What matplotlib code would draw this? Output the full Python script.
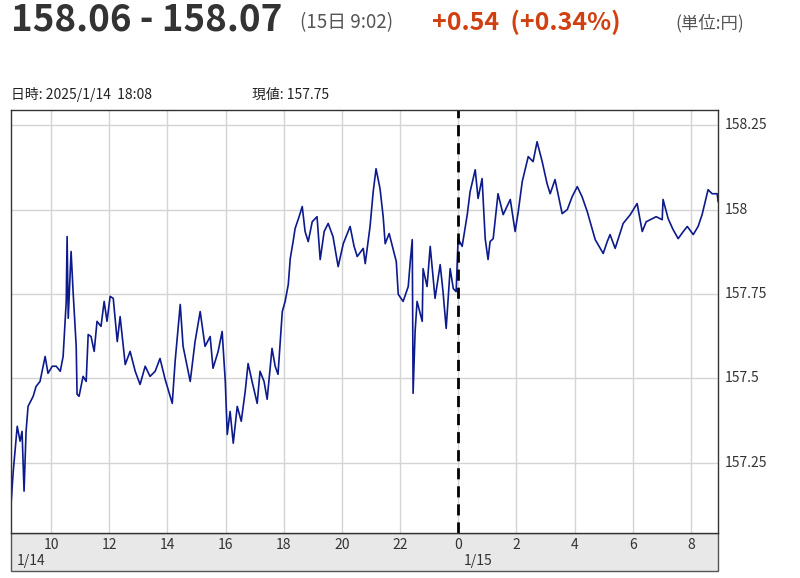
import matplotlib
matplotlib.use("Agg")
import matplotlib.pyplot as plt
from matplotlib.patches import Rectangle

plt.rcParams["font.family"] = ["Noto Sans CJK JP", "DejaVu Sans"]

# hours since 1/14 00:00
hours = [8.628, 8.697, 8.834, 8.932, 9.000, 9.069, 9.138, 9.206, 9.383, 9.481, 9.618, 9.794, 9.892,
         10.039, 10.176, 10.314, 10.412, 10.519, 10.549, 10.588, 10.686, 10.755, 10.862, 10.892, 10.960,
         11.098, 11.205, 11.274, 11.372, 11.480, 11.578, 11.715, 11.823, 11.921, 12.029, 12.136, 12.274,
         12.372, 12.548, 12.715, 12.891, 13.058, 13.234, 13.401, 13.577, 13.744, 13.920, 14.165, 14.263,
         14.439, 14.537, 14.675, 14.782, 14.949, 15.125, 15.292, 15.468, 15.566, 15.743, 15.880, 15.988,
         16.056, 16.154, 16.262, 16.399, 16.537, 16.674, 16.772, 16.909, 17.085, 17.183, 17.321, 17.428,
         17.595, 17.703, 17.801, 17.948, 18.046, 18.154, 18.222, 18.320, 18.389, 18.526, 18.634, 18.732,
         18.840, 18.977, 19.143, 19.251, 19.388, 19.526, 19.692, 19.869, 20.045, 20.280, 20.417, 20.525,
         20.731, 20.800, 20.966, 21.074, 21.172, 21.309, 21.417, 21.486, 21.623, 21.760, 21.868, 21.936,
         22.103, 22.279, 22.348, 22.417, 22.446, 22.515, 22.583, 22.760, 22.789, 22.926, 23.034, 23.201,
         23.377, 23.475, 23.583, 23.720, 23.828, 23.926, 23.994, 24.132, 24.308, 24.406, 24.582, 24.680,
         24.818, 24.925, 25.023, 25.092, 25.200, 25.366, 25.543, 25.788, 25.954, 26.062, 26.199, 26.405,
         26.572, 26.709, 26.885, 27.052, 27.160, 27.326, 27.571, 27.748, 27.914, 28.091, 28.257, 28.434,
         28.708, 28.983, 29.120, 29.218, 29.394, 29.669, 29.914, 30.149, 30.325, 30.462, 30.600, 30.805,
         31.011, 31.041, 31.217, 31.384, 31.560, 31.736, 31.874, 32.079, 32.246, 32.383, 32.589, 32.726,
         32.903, 32.932]
prices = [157.136, 157.225, 157.358, 157.314, 157.343, 157.166, 157.343, 157.417, 157.447,
          157.476, 157.491, 157.565, 157.515, 157.536, 157.536, 157.521, 157.565, 157.728,
          157.920, 157.678, 157.876, 157.757, 157.595, 157.453, 157.447, 157.506, 157.491,
          157.630, 157.624, 157.580, 157.669, 157.654, 157.728, 157.669, 157.743, 157.737,
          157.609, 157.683, 157.541, 157.580, 157.521, 157.482, 157.536, 157.506, 157.521,
          157.559, 157.497, 157.426, 157.550, 157.719, 157.595, 157.536, 157.491, 157.609,
          157.698, 157.595, 157.624, 157.530, 157.580, 157.639, 157.491, 157.334, 157.402,
          157.308, 157.417, 157.373, 157.462, 157.544, 157.491, 157.426, 157.521, 157.491,
          157.438, 157.589, 157.536, 157.512, 157.698, 157.728, 157.778, 157.855, 157.905,
          157.944, 157.979, 158.009, 157.935, 157.905, 157.964, 157.979, 157.852, 157.935,
          157.959, 157.920, 157.831, 157.899, 157.950, 157.891, 157.861, 157.885, 157.840,
          157.950, 158.053, 158.121, 158.062, 157.979, 157.899, 157.929, 157.882, 157.846,
          157.749, 157.728, 157.772, 157.846, 157.911, 157.456, 157.639, 157.728, 157.669,
          157.825, 157.772, 157.891, 157.737, 157.837, 157.757, 157.648, 157.825, 157.766,
          157.757, 157.914, 157.891, 157.985, 158.053, 158.118, 158.033, 158.092, 157.914,
          157.852, 157.905, 157.914, 158.047, 157.985, 158.030, 157.935, 157.994, 158.083,
          158.157, 158.142, 158.201, 158.142, 158.077, 158.047, 158.089, 157.988, 158.000,
          158.038, 158.068, 158.038, 157.994, 157.911, 157.870, 157.905, 157.926, 157.885,
          157.959, 157.985, 158.018, 157.935, 157.964, 157.970, 157.979, 157.970, 158.030,
          157.973, 157.941, 157.914, 157.935, 157.950, 157.926, 157.950, 157.985, 158.059,
          158.047, 158.047, 158.024]

x_ticks = [10, 12, 14, 16, 18, 20, 22, 24, 26, 28, 30, 32]
x_labels = ["10", "12", "14", "16", "18", "20", "22", "0", "2", "4", "6", "8"]
y_ticks = [157.25, 157.5, 157.75, 158.0, 158.25]
y_labels = ["157.25", "157.5", "157.75", "158", "158.25"]
date_hours = [8.83, 24.2]
date_labels = ["1/14", "1/15"]

W, H = 800, 578
X0, X1 = 8.62, 32.93
Y0, Y1 = 157.042, 158.295
fig = plt.figure(figsize=(8, 5.78), dpi=100)
ax = fig.add_axes([11 / W, 1 - 533 / H, 707 / W, 423 / H])
ax.set_xlim(X0, X1)
ax.set_ylim(Y0, Y1)

ax.plot(hours, prices, color="#0d1a8c", lw=1.2)
ax.axvline(24, color="black", ls=(0, (4, 2.5)), lw=2)

ax.set_xticks(x_ticks)
ax.set_yticks(y_ticks)
ax.grid(True, color="#d4d4d4", lw=1)
ax.set_axisbelow(True)
ax.tick_params(length=0, labelbottom=False, labelleft=False)
for s in ax.spines.values():
    s.set_color("#333333")
    s.set_linewidth(1)

for t, lab in zip(y_ticks, y_labels):
    ax.text(1.01, (t - Y0) / (Y1 - Y0), lab, transform=ax.transAxes,
            va="center", ha="left", fontsize=10, color="#333333")

# grey time band under the chart
band = Rectangle((11 / W, 1 - 571 / H), 707 / W, 38 / H, transform=fig.transFigure,
                 facecolor="#e8e8e8", edgecolor="#555555", lw=1, zorder=-1)
fig.patches.append(band)
tr = ax.get_xaxis_transform()
for t, lab in zip(x_ticks, x_labels):
    ax.text(t, -0.012, lab, transform=tr, ha="center", va="top", fontsize=10, color="#333333")
for t, lab in zip(date_hours, date_labels):
    ax.text(t, -0.05, lab, transform=tr, ha="left", va="top", fontsize=10, color="#333333")

# header
fig.text(11 / W, 1 - 20 / H, "158.06 - 158.07", fontsize=26.5, fontweight="bold",
         color="#333333", va="center", ha="left")
fig.text(300 / W, 1 - 23 / H, "(15日 9:02)", fontsize=13.5, color="#555555", va="center")
fig.text(432 / W, 1 - 22 / H, "+0.54  (+0.34%)", fontsize=18, fontweight="bold",
         color="#d04010", va="center")
fig.text(675 / W, 1 - 23 / H, "(単位:円)", fontsize=12.5, color="#555555", va="center")
fig.text(11 / W, 1 - 95 / H, "日時: 2025/1/14  18:08", fontsize=10, color="#222222", va="center")
fig.text(252 / W, 1 - 95 / H, "現値: 157.75", fontsize=10, color="#222222", va="center")

fig.savefig("out.png", dpi=100)
